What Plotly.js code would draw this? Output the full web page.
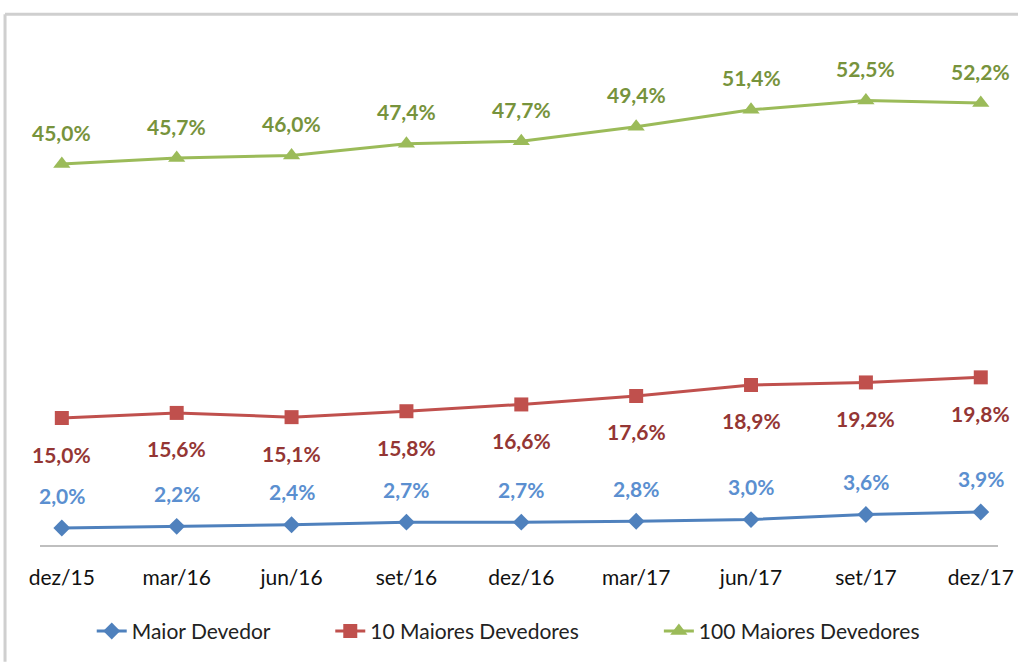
<!DOCTYPE html>
<html>
<head>
<meta charset="utf-8">
<script src="https://cdn.plot.ly/plotly-3.0.1.min.js"></script>
<style>
html,body{margin:0;padding:0;background:#fff;}
#chart{width:1018px;height:664px;}
</style>
</head>
<body>
<div id="chart"></div>
<script>
const categories = ['dez/15','mar/16','jun/16','set/16','dez/16','mar/17','jun/17','set/17','dez/17'];
const maiorDevedor = [2.0, 2.2, 2.4, 2.7, 2.7, 2.8, 3.0, 3.6, 3.9];
const dezMaiores = [15.0, 15.6, 15.1, 15.8, 16.6, 17.6, 18.9, 19.2, 19.8];
const cemMaiores = [45.0, 45.7, 46.0, 47.4, 47.7, 49.4, 51.4, 52.5, 52.2];

const fmt = v => v.toFixed(1).replace('.', ',') + '%';
const labelFont = 'Lato, "Open Sans", sans-serif';

const traces = [
  {x: categories, y: maiorDevedor, name: 'Maior Devedor', type: 'scatter', mode: 'lines+markers', legend: 'legend',
   line: {color: '#4F81BD', width: 3}, marker: {symbol: 'diamond', size: 13, color: '#4F81BD'}},
  {x: categories, y: dezMaiores, name: '10 Maiores Devedores', type: 'scatter', mode: 'lines+markers', legend: 'legend2',
   line: {color: '#C0504D', width: 3}, marker: {symbol: 'square', size: 14, color: '#C0504D'}},
  {x: categories, y: cemMaiores, name: '100 Maiores Devedores', type: 'scatter', mode: 'lines+markers', legend: 'legend3',
   line: {color: '#9BBB59', width: 3}, marker: {symbol: 'triangle-up', size: 15, color: '#9BBB59'}}
];

const annotations = [];
function addLabels(vals, color, shift) {
  vals.forEach((v, i) => {
    annotations.push({x: categories[i], y: v, xref: 'x', yref: 'y', text: '<b>' + fmt(v) + '</b>',
      showarrow: false, yshift: shift, font: {family: labelFont, size: 21, color: color}});
  });
}
addLabels(maiorDevedor, '#5B8FD0', 33);
addLabels(dezMaiores, '#943634', -36);
addLabels(cemMaiores, '#77933C', 32);

const legendBase = {orientation: 'h', xanchor: 'left', y: -0.17, yanchor: 'middle',
  font: {family: labelFont, size: 21, color: '#222222'}, bgcolor: 'rgba(0,0,0,0)'};

const layout = {
  width: 1018, height: 664,
  margin: {l: 40, r: 20, t: 37, b: 117},
  paper_bgcolor: '#ffffff', plot_bgcolor: '#ffffff',
  showlegend: true,
  legend: Object.assign({}, legendBase, {x: 0.054}),
  legend2: Object.assign({}, legendBase, {x: 0.303}),
  legend3: Object.assign({}, legendBase, {x: 0.646}),
  xaxis: {type: 'category', range: [-0.19, 8.15], showgrid: false, zeroline: false,
    showline: true, linecolor: '#BFBFBF', linewidth: 2, ticks: '',
    tickfont: {family: labelFont, size: 21, color: '#111111'}, ticklabelstandoff: 13, fixedrange: true},
  yaxis: {range: [0, 60], showgrid: false, zeroline: false, showline: false,
    showticklabels: false, ticks: '', fixedrange: true},
  annotations: annotations,
  shapes: [
    {type: 'line', xref: 'paper', yref: 'paper', x0: -0.0365, x1: -0.0365, y0: 1.045, y1: -0.23,
     line: {color: '#CFCFCF', width: 3}},
    {type: 'line', xref: 'paper', yref: 'paper', x0: -0.0365, x1: 1.03, y0: 1.045, y1: 1.045,
     line: {color: '#CFCFCF', width: 3}}
  ]
};

Plotly.newPlot('chart', traces, layout, {displayModeBar: false, staticPlot: true});
</script>
</body>
</html>
